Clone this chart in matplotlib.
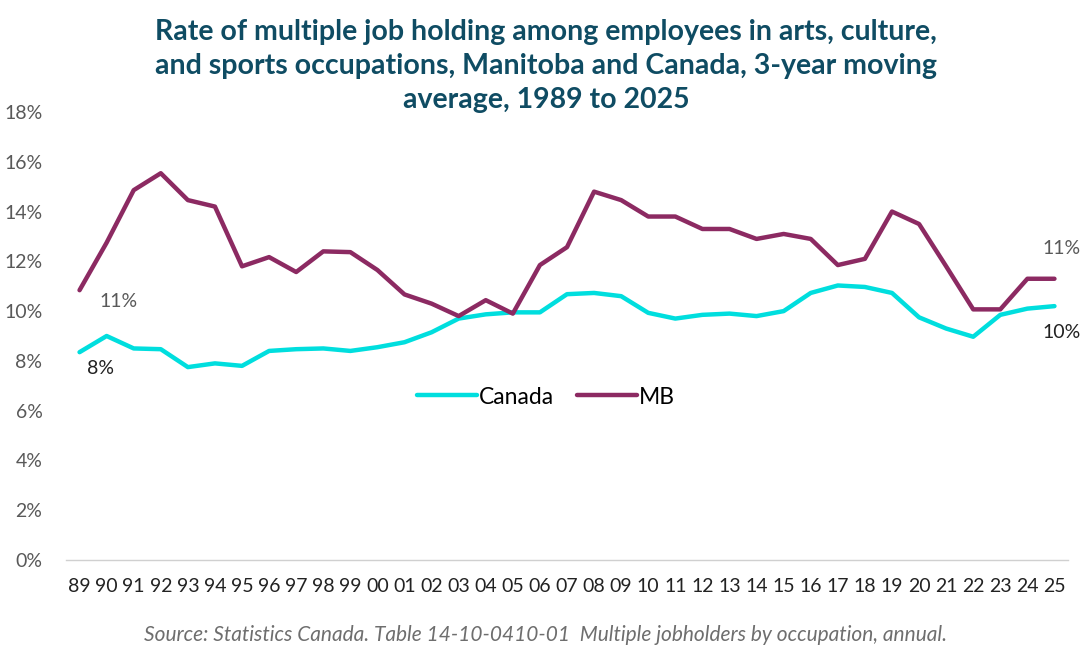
import matplotlib.pyplot as plt
import numpy as np

years = ['89', '90', '91', '92', '93', '94', '95', '96', '97', '98', '99', '00',
         '01', '02', '03', '04', '05', '06', '07', '08', '09', '10', '11', '12',
         '13', '14', '15', '16', '17', '18', '19', '20', '21', '22', '23', '24', '25']

canada = [8.35, 9.0, 8.5, 8.47, 7.75, 7.9, 7.8, 8.4, 8.47, 8.5, 8.4, 8.55,
          8.75, 9.15, 9.7, 9.87, 9.95, 9.95, 10.68, 10.73, 10.6, 9.93, 9.7, 9.85,
          9.9, 9.8, 10.0, 10.73, 11.03, 10.97, 10.73, 9.75, 9.3, 8.97, 9.85, 10.1, 10.2]

mb = [10.84, 12.75, 14.86, 15.54, 14.46, 14.2, 11.8, 12.17, 11.57, 12.4, 12.37, 11.65,
      10.67, 10.3, 9.8, 10.44, 9.9, 11.85, 12.57, 14.8, 14.46, 13.8, 13.8, 13.3,
      13.3, 12.9, 13.1, 12.9, 11.85, 12.1, 14.0, 13.5, 11.8, 10.07, 10.07, 11.3, 11.3]

CYAN = '#00DEDE'
PLUM = '#8C2A62'
GREY = '#595959'
TITLE = '#0F4C63'

plt.rcParams['font.family'] = ['Lato', 'DejaVu Sans']

fig = plt.figure(figsize=(10.92, 6.54), dpi=100)
ax = fig.add_axes([66 / 1092, 1 - 560 / 654, (1068 - 66) / 1092, (560 - 112) / 654])

x = np.arange(len(years))
ax.plot(x, canada, color=CYAN, lw=3.2, label='Canada', solid_capstyle='round')
ax.plot(x, mb, color=PLUM, lw=3.2, label='MB', solid_capstyle='round')

ax.set_xlim(-0.5, len(years) - 0.5)
ax.set_ylim(0, 18)
ax.set_yticks(range(0, 19, 2))
ax.set_yticklabels([f'{v}%' for v in range(0, 19, 2)], color=GREY, fontsize=14)
ax.set_xticks(x)
ax.set_xticklabels(years, fontsize=14, color='#222222')
ax.tick_params(length=0)
ax.tick_params(axis='y', pad=17)
ax.tick_params(axis='x', pad=13)
for s in ['top', 'right', 'left']:
    ax.spines[s].set_visible(False)
ax.spines['bottom'].set_color('#D0D0D0')
ax.spines['bottom'].set_linewidth(1)

# end labels
ax.annotate(f'{mb[0]:.0f}%', (x[0], mb[0]), xytext=(14, -8), textcoords='offset points',
            ha='left', va='center', color=GREY, fontsize=14)
ax.annotate(f'{canada[0]:.0f}%', (x[0], canada[0]), xytext=(15, -12), textcoords='offset points',
            ha='center', va='center', color='#222222', fontsize=14)
ax.annotate(f'{mb[-1]:.0f}%', (x[-1], mb[-1]), xytext=(5, 22), textcoords='offset points',
            ha='center', va='center', color=GREY, fontsize=14)
ax.annotate(f'{canada[-1]:.0f}%', (x[-1], canada[-1]), xytext=(5, -19), textcoords='offset points',
            ha='center', va='center', color='#222222', fontsize=14)

ax.legend(loc='center', bbox_to_anchor=(0.5, 1 - 397 / 654), bbox_transform=fig.transFigure,
          ncol=2, frameon=False, fontsize=16.5, handlelength=2.6, columnspacing=1.0,
          handletextpad=0.1)

fig.text(0.5, 1 - 66 / 654, 'Rate of multiple job holding among employees in arts, culture,\n'
         'and sports occupations, Manitoba and Canada, 3-year moving\n'
         'average, 1989 to 2025', ha='center', va='center', fontsize=20.5,
         fontweight='bold', color=TITLE, linespacing=1.38)

fig.text(0.5, 1 - 635 / 654, 'Source: Statistics Canada. Table 14-10-0410-01  Multiple jobholders by occupation, annual.',
         ha='center', va='center', fontsize=15, style='italic', color='#6E6E6E')

fig.savefig('out.png', dpi=100, facecolor='white')
